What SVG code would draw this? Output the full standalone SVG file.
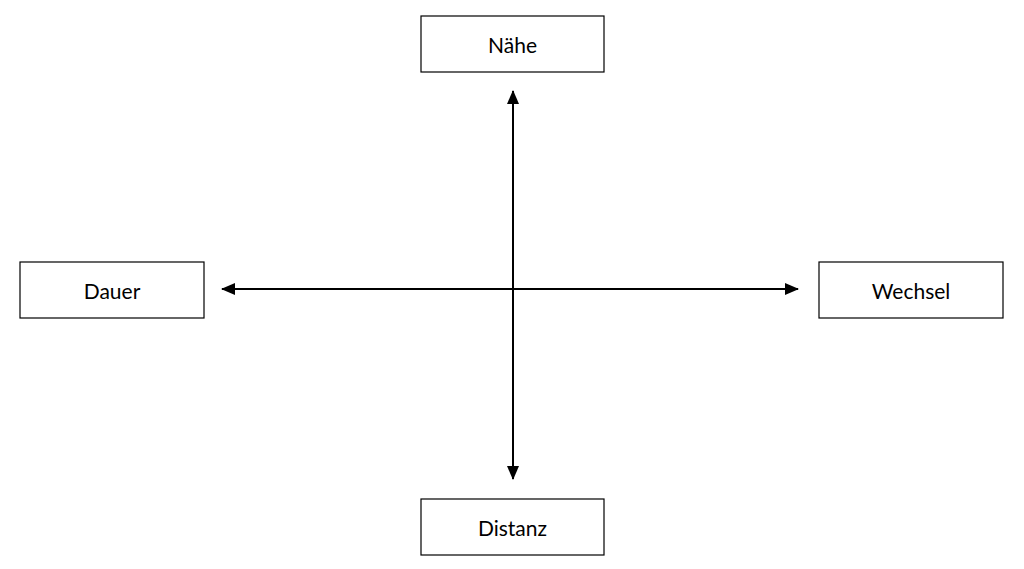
<svg xmlns="http://www.w3.org/2000/svg" width="1024" height="569" viewBox="0 0 1024 569">
<style>
.box{fill:#fff;stroke:#000;stroke-width:1.2}
.lbl{font-family:"Lato","Liberation Sans",sans-serif;font-size:21px;fill:#000;text-anchor:middle;dominant-baseline:central}
.ln{stroke:#000;stroke-width:2;fill:none}
</style>
<defs>
<marker id="ah" viewBox="0 0 14 12" refX="13" refY="6" markerWidth="14" markerHeight="12" orient="auto-start-reverse" markerUnits="userSpaceOnUse">
<path d="M0,0 L14,6 L0,12 z" fill="#000"/>
</marker>
</defs>
<rect width="1024" height="569" fill="#fff"/>
<g id="connectors">
<line class="ln" x1="513" y1="91" x2="513" y2="479" marker-start="url(#ah)" marker-end="url(#ah)"/>
<line class="ln" x1="222" y1="289" x2="798" y2="289" marker-start="url(#ah)" marker-end="url(#ah)"/>
</g>
<g id="naehe"><rect class="box" x="421" y="16" width="183" height="56"/><text class="lbl" x="512.5" y="44">Nähe</text></g>
<g id="dauer"><rect class="box" x="20" y="262" width="184" height="56"/><text class="lbl" x="112" y="290">Dauer</text></g>
<g id="wechsel"><rect class="box" x="819" y="262" width="184" height="56"/><text class="lbl" x="911" y="290">Wechsel</text></g>
<g id="distanz"><rect class="box" x="421" y="499" width="183" height="56"/><text class="lbl" x="512.5" y="527">Distanz</text></g>
</svg>
